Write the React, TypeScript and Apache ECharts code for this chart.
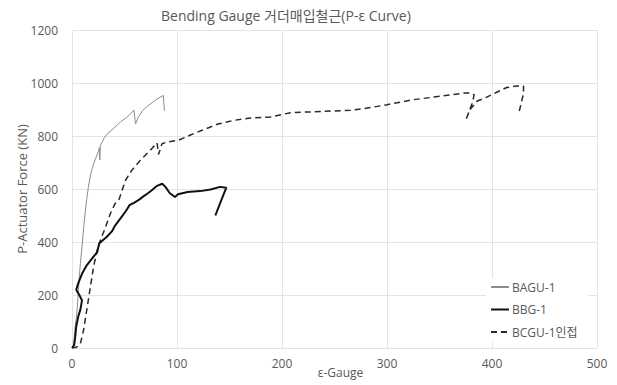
import React, { useEffect, useRef } from "react";
import * as echarts from "echarts";

const titleText = "Bending Gauge 거더매입철근(P-ε Curve)";
const xName = "ε-Gauge";
const yName = "P-Actuator Force (KN)";
const seriesNames = ["BAGU-1", "BBG-1", "BCGU-1인접"];

const bagu1: [number, number][] = [
  [0, 0], [1, 5], [2, 30], [3, 80], [4, 110], [5, 150], [6, 210], [7, 270], [8, 320],
  [9.5, 380], [11, 450], [12.5, 510], [14, 560], [15.5, 605], [17.5, 650], [19, 675],
  [21, 700], [23, 720], [25, 740], [26, 755], [26.5, 710], [27, 765], [28.5, 775],
  [31, 795], [34, 810], [40, 830], [46, 853], [52, 870], [56, 885], [59, 898],
  [60.5, 845], [63, 870], [67, 895], [71, 910], [76, 925], [81, 940], [87, 953], [88, 895],
];

const bbg1: [number, number][] = [
  [0, 0], [2, 10], [3, 40], [4, 80], [6, 120], [8, 145], [9.5, 180], [7, 200], [4, 220],
  [6, 245], [9.5, 280], [14, 312], [19, 337], [24, 362], [26, 395], [33, 419], [38, 440],
  [41, 462], [46, 488], [51, 515], [55, 540], [59, 548], [64, 560], [68, 572], [72, 583],
  [76, 595], [81, 612], [86, 620], [89, 608], [93, 585], [98, 570], [101, 580], [110, 589],
  [122, 592], [132, 598], [141, 608], [147, 605], [144, 576], [140, 535], [136.5, 500],
];

const bcgu1: [number, number][] = [
  [0, 0], [3, 2], [5, 5], [8, 17], [11, 67], [14, 142], [16, 192], [17.5, 230], [20.5, 306],
  [24, 369], [27, 406], [32, 457], [36.5, 507], [41, 545], [44.5, 557], [51, 633], [57, 671],
  [65, 708], [73, 740], [79, 765], [81, 774], [82.5, 731], [85.7, 771], [90.5, 777],
  [101.5, 784], [116, 809], [138, 844], [154, 859], [170, 868], [189, 872], [200, 881],
  [208, 888], [227, 891], [265, 897], [278, 903], [300, 918], [325, 937], [351, 950],
  [373, 962], [381, 962], [383, 955], [381, 922], [375, 859], [379, 900], [386, 932],
  [394, 945], [405, 966], [414, 983], [424, 989], [430, 989], [430, 960], [426, 894],
];

const xMin = 0, xMax = 500, xStep = 100;
const yMin = 0, yMax = 1200, yStep = 200;

const FONT = "'Open Sans', 'Noto Sans CJK KR', sans-serif";
const TXT = "#595959";

export default function App() {
  const ref = useRef<HTMLDivElement>(null);
  useEffect(() => {
    if (!ref.current) return;
    const chart = echarts.init(ref.current, undefined, { renderer: "svg" });
    chart.setOption({
      animation: false,
      backgroundColor: "#ffffff",
      textStyle: { fontFamily: FONT },
      graphic: [
        {
          type: "text",
          left: 283 - 122,
          top: 8,
          style: { text: titleText, fill: TXT, fontSize: 14, fontFamily: FONT },
        },
      ],
      grid: { left: 72, right: 20, top: 30, bottom: 37, containLabel: false, outerBoundsMode: "none" },
      xAxis: {
        type: "value",
        min: xMin, max: xMax, interval: xStep,
        name: xName, nameLocation: "middle", nameGap: 18, nameMoveOverlap: false,
        nameTextStyle: { color: TXT, fontSize: 12, fontFamily: FONT, padding: [0, 0, 0, 12] },
        axisLine: { show: false },
        axisTick: { show: false },
        axisLabel: { color: TXT, fontSize: 12, fontFamily: FONT, margin: 9 },
        splitLine: { show: true, lineStyle: { color: "#e4e4e4", width: 1 } },
      },
      yAxis: {
        type: "value",
        min: yMin, max: yMax, interval: yStep,
        name: yName, nameLocation: "middle", nameGap: 44, nameMoveOverlap: false,
        nameTextStyle: { color: TXT, fontSize: 13, fontFamily: FONT },
        axisLine: { show: false },
        axisTick: { show: false },
        axisLabel: { color: TXT, fontSize: 12, fontFamily: FONT, margin: 14, formatter: (v: number) => String(v) },
        splitLine: { show: true, lineStyle: { color: "#e4e4e4", width: 1 } },
      },
      legend: {
        orient: "vertical",
        left: 486,
        top: 278,
        padding: [3, 10, 3, 4],
        backgroundColor: "#ffffff",
        itemWidth: 18,
        itemHeight: 10,
        itemGap: 10.5,
        itemStyle: { opacity: 0 },
        textStyle: { color: TXT, fontSize: 12, fontFamily: FONT, padding: [0, 0, 0, -2] },
        data: seriesNames,
      },
      series: [
        {
          name: seriesNames[0], type: "line", data: bagu1, showSymbol: false, symbol: "none",
          lineStyle: { color: "#8c8c8c", width: 1 }, itemStyle: { color: "#8c8c8c" }, z: 3,
        },
        {
          name: seriesNames[1], type: "line", data: bbg1, showSymbol: false, symbol: "none",
          lineStyle: { color: "#111111", width: 2 }, itemStyle: { color: "#111111" }, z: 4,
        },
        {
          name: seriesNames[2], type: "line", data: bcgu1, showSymbol: false, symbol: "none",
          lineStyle: { color: "#2a2a2a", width: 1.5, type: [6, 4] }, itemStyle: { color: "#2a2a2a" }, z: 2,
        },
      ],
    });
    return () => chart.dispose();
  }, []);
  return <div ref={ref} style={{ width: 617, height: 385, position: "absolute", left: 0, top: 0 }} />;
}
